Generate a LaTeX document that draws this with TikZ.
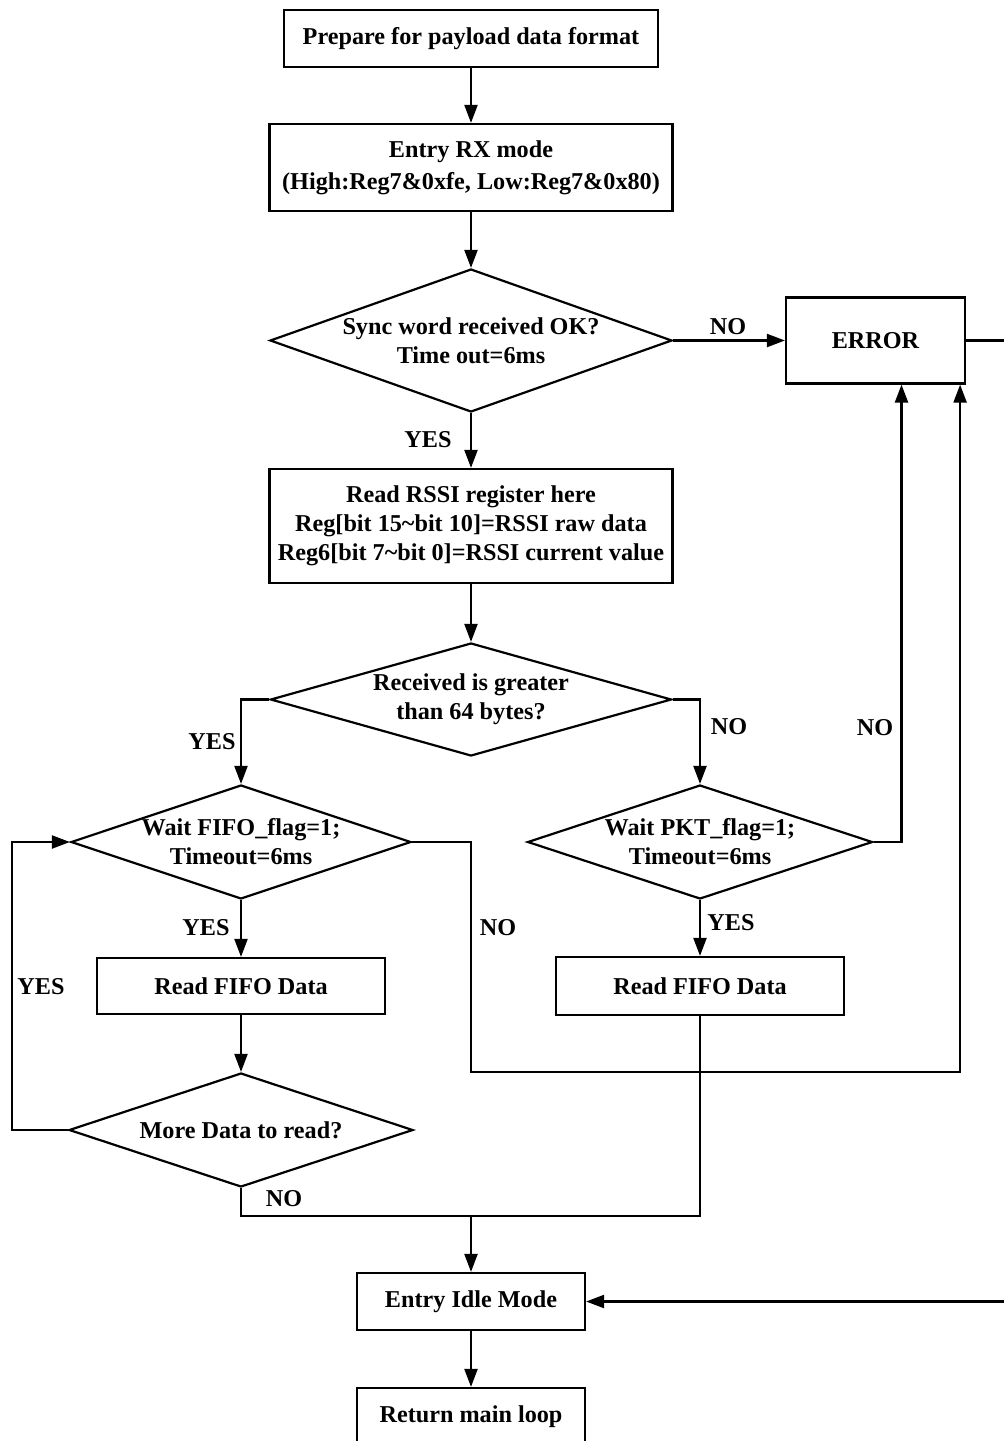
\documentclass[tikz,border=0pt]{standalone}
\usepackage{fontspec}
\setmainfont{Liberation Serif}
\usetikzlibrary{shapes.geometric,arrows.meta}
\tikzset{every node/.style={font=\fontsize{12.1}{14.5}\selectfont\bfseries},
         procbox/.style={draw,line width=1.1pt,align=center,inner sep=0pt},
         decision/.style={diamond,draw,line width=1.1pt,inner sep=0pt},
         conn/.style={line width=1.1pt},
         arr/.style={conn,-{Triangle[length=9pt,width=6.5pt]}}
    }

\begin{document}
\begin{tikzpicture}[x=0.5pt,y=-0.5pt]
                \useasboundingbox (0,0) rectangle (1004,1441);
                \clip (0,0) rectangle (1004,1441);
                \node[procbox,minimum width=187pt,minimum height=28.5pt] (prep) at (471,38.5) {Prepare for payload data format};
                \node[procbox,minimum width=201.5pt,minimum height=43.5pt] (rx) at (471,167.5) {Entry RX mode\\[1.5pt](High:Reg7\&0xfe, Low:Reg7\&0x80)};
                \node[decision,minimum width=201pt,minimum height=71.5pt,label={[align=center]center:Sync word received OK?\\Time out=6ms}] (sync) at (471,340.5) {};
                \node[procbox,minimum width=89.5pt,minimum height=43pt] (error) at (875.5,340.5) {ERROR};
                \node[procbox,minimum width=201.5pt,minimum height=57pt] (rssi) at (471,526) {Read RSSI register here\\Reg[bit 15\textasciitilde bit 10]=RSSI raw data\\Reg6[bit 7\textasciitilde bit 0]=RSSI current value};
                \node[decision,minimum width=200.5pt,minimum height=56.5pt,label={[align=center]center:Received is greater\\than 64 bytes?}] (size) at (471,699.5) {};
                \node[decision,minimum width=170pt,minimum height=57pt,label={[align=center]center:Wait FIFO\_flag=1;\\Timeout=6ms}] (fifo) at (241,842) {};
                \node[decision,minimum width=172.5pt,minimum height=57pt,label={[align=center]center:Wait PKT\_flag=1;\\Timeout=6ms}] (pkt) at (700,842) {};
                \node[procbox,minimum width=144pt,minimum height=28pt] (read1) at (241,986) {Read FIFO Data};
                \node[procbox,minimum width=144pt,minimum height=29pt] (read2) at (700,986) {Read FIFO Data};
                \node[decision,minimum width=172pt,minimum height=57pt,label={center:More Data to read?}] (more) at (241,1130) {};
                \coordinate (join) at (471,1216);
                \node[procbox,minimum width=114pt,minimum height=28.5pt] (idle) at (471,1301.5) {Entry Idle Mode};
                \node[procbox,minimum width=114pt,minimum height=28.5pt] (ret) at (471,1416.5) {Return main loop};

                    \draw[arr] (prep) -- (rx);
                    \draw[arr] (rx) -- (sync);
                    \draw[arr] (sync.east) -- (error.west);
                    \draw[arr] (sync) -- (rssi);
                    \draw[arr] (rssi) -- (size);
                    \draw[arr] (size.west) -| (fifo.north);
                    \draw[arr] (size.east) -| (pkt.north);
                    \draw[arr] (fifo) -- (read1);
                    \draw[arr] (pkt) -- (read2);
                    \draw[arr] (read1) -- (more);
                    \draw[arr] (more.west) -- ++(-56,0) |- (fifo.west);
                    \draw[conn] (more.south) |- (join) -| (read2.south);
                    \draw[arr] (join) -- (idle);
                    \draw[arr] (fifo.east) -| (471,1072) -| ([xshift=-3pt]error.south east);
                    \draw[arr] (pkt.east) -| ([xshift=13pt]error.south);
                    \draw[arr] (error.east) -- ++(50,0) |- (idle.east);
                    \draw[arr] (idle) -- (ret);

                \node (nosync) at (728,327) {NO};
                \node (yessync) at (428,440) {YES};
                \node (yesbig) at (212,742) {YES};
                \node (nobig) at (729,727) {NO};
                \node (yesfifo) at (206,928) {YES};
                \node (yesmore) at (41,987) {YES};
                \node (nofifo) at (498,928) {NO};
                \node (yespkt) at (731,923) {YES};
                \node (nopkt) at (875,728) {NO};
                \node (nomore) at (284,1199) {NO};
                \end{tikzpicture}
\end{document}
